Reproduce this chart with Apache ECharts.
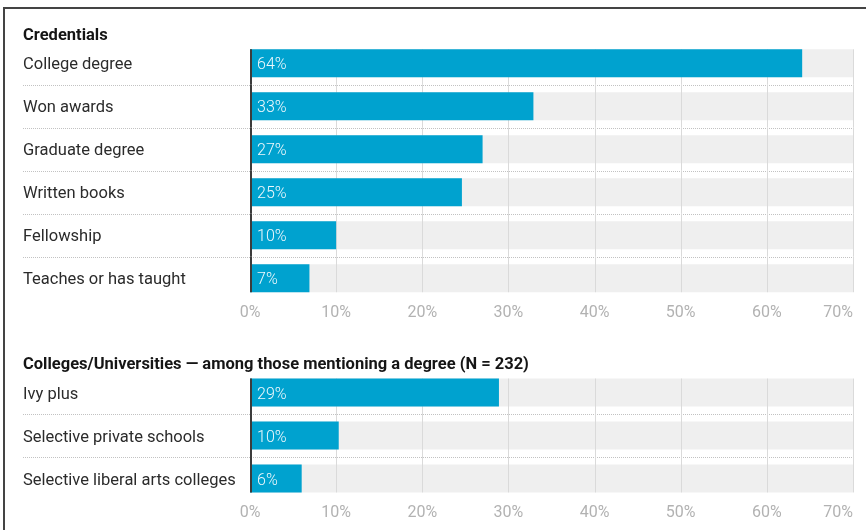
<!DOCTYPE html>
<html><head><meta charset="utf-8">
<script src="https://cdn.jsdelivr.net/npm/echarts@6/dist/echarts.min.js"></script>
<style>html,body{margin:0;padding:0;background:#fff}#c{width:866px;height:530px}</style>
</head><body><div id="c"></div><script>
// ---- data ----
const credCategories = ['College degree', 'Won awards', 'Graduate degree', 'Written books', 'Fellowship', 'Teaches or has taught'];
const credValues = [64.1, 32.9, 27, 24.6, 10, 6.9];
const colCategories = ['Ivy plus', 'Selective private schools', 'Selective liberal arts colleges'];
const colValues = [28.9, 10.3, 6];
const tickValues = [0, 10, 20, 30, 40, 50, 60, 70];
const tickMin = 0, tickMax = 70, tickStep = 10;
const panelTitles = ['Credentials', 'Colleges/Universities \u2014 among those mentioning a degree (N = 232)'];

// ---- style ----
const BLUE = '#00a2cf';
const BG = '#efefef';
const FONT = 'Roboto';
const GRID_LEFT = 250, GRID_W = 603, LABEL_X = 23;
const BAR_FRAC = 0.65;

const chart = echarts.init(document.getElementById('c'));

function decoRender(count) {
  return function (params, api) {
    const i = api.value(1);
    const c = api.coord([0, i]);
    const bandH = Math.abs(api.size([0, 1])[1]);
    const barH = bandH * BAR_FRAC;
    const yTop = i === 0 ? c[1] - barH / 2 : c[1] - bandH / 2;
    const yBot = i === count - 1 ? c[1] + barH / 2 : c[1] + bandH / 2;
    const children = [];
    tickValues.forEach(function (t) {
      if (t === tickMin) return;
      const x = Math.round(api.coord([t, i])[0]) + 0.5;
      children.push({ type: 'line', shape: { x1: x, y1: yTop, x2: x, y2: yBot },
        style: { stroke: '#dadada', lineWidth: 1 } });
    });
    if (i < count - 1) {
      const y = Math.round(c[1] + bandH / 2) + 0.5;
      const cs = params.coordSys;
      children.push({ type: 'line', shape: { x1: LABEL_X, y1: y, x2: cs.x + cs.width, y2: y },
        style: { stroke: '#c2c2c2', lineWidth: 1, lineDash: [1, 1] } });
    }
    return { type: 'group', children: children };
  };
}
function axisRender(count) {
  return function (params, api) {
    const i = api.value(1);
    const c = api.coord([tickMin, i]);
    const bandH = Math.abs(api.size([0, 1])[1]);
    const barH = bandH * BAR_FRAC;
    const yTop = i === 0 ? c[1] - barH / 2 : c[1] - bandH / 2;
    const yBot = i === count - 1 ? c[1] + barH / 2 : c[1] + bandH / 2;
    return { type: 'line', shape: { x1: c[0] + 1, y1: yTop, x2: c[0] + 1, y2: yBot },
      style: { stroke: '#3c3c3c', lineWidth: 2 } };
  };
}

const panels = [
  { cats: credCategories, vals: credValues, top: 41.75, height: 258 },
  { cats: colCategories, vals: colValues, top: 371, height: 129 }
];

const grids = [], xAxes = [], yAxes = [], series = [];
panels.forEach(function (p, k) {
  grids.push({ left: GRID_LEFT, width: GRID_W, top: p.top, height: p.height });
  xAxes.push({
    type: 'value', gridIndex: k, min: tickMin, max: tickMax, interval: tickStep,
    axisLine: { show: false }, axisTick: { show: false }, splitLine: { show: false },
    axisLabel: { formatter: '{value}%', color: '#b2b2b2', fontSize: 16, fontFamily: FONT,
      margin: 5, alignMaxLabel: 'right' }
  });
  yAxes.push({
    type: 'category', gridIndex: k, data: p.cats, inverse: true,
    axisLine: { show: false }, axisTick: { show: false }, splitLine: { show: false },
    axisLabel: { align: 'left', margin: GRID_LEFT - LABEL_X,
      formatter: function (v) { return '{a|' + v + '}'; },
      rich: { a: { color: '#2b2b2b', fontSize: 16.5, fontFamily: FONT, lineHeight: 21, verticalAlign: 'bottom' } } }
  });
  const idx = p.cats.map(function (_, i) { return [0, i]; });
  series.push({
    type: 'bar', xAxisIndex: k, yAxisIndex: k, data: p.cats.map(function () { return tickMax; }),
    barWidth: (BAR_FRAC * 100) + '%', barGap: '-100%', itemStyle: { color: BG }, z: 1, silent: true
  });
  series.push({
    type: 'custom', xAxisIndex: k, yAxisIndex: k, data: idx, encode: { x: 0, y: 1 },
    renderItem: decoRender(p.cats.length), z: 2, silent: true, clip: false
  });
  series.push({
    type: 'bar', xAxisIndex: k, yAxisIndex: k, data: p.vals,
    barWidth: (BAR_FRAC * 100) + '%', barGap: '-100%', itemStyle: { color: BLUE }, z: 3, silent: true,
    label: { show: true, position: 'insideLeft', distance: 7, offset: [0, 2], color: '#eef8fc', fontSize: 16,
      fontFamily: FONT, fontWeight: 300, formatter: function (d) { return Math.round(d.value) + '%'; } }
  });
  series.push({
    type: 'custom', xAxisIndex: k, yAxisIndex: k, data: idx, encode: { x: 0, y: 1 },
    renderItem: axisRender(p.cats.length), z: 4, silent: true, clip: false
  });
});

chart.setOption({
  animation: false,
  backgroundColor: '#fff',
  grid: grids, xAxis: xAxes, yAxis: yAxes, series: series,
  graphic: [
    { type: 'line', shape: { x1: 3, y1: 8, x2: 866, y2: 8 }, style: { stroke: '#444', lineWidth: 2 } },
    { type: 'line', shape: { x1: 4, y1: 7, x2: 4, y2: 530 }, style: { stroke: '#444', lineWidth: 2 } },
    { type: 'text', left: LABEL_X, top: 27, style: { text: panelTitles[0], font: 'bold 16.5px Roboto', fill: '#151515' } },
    { type: 'text', left: LABEL_X, top: 356, style: { text: panelTitles[1], font: 'bold 16.5px Roboto', fill: '#151515' } }
  ]
});
</script></body></html>
